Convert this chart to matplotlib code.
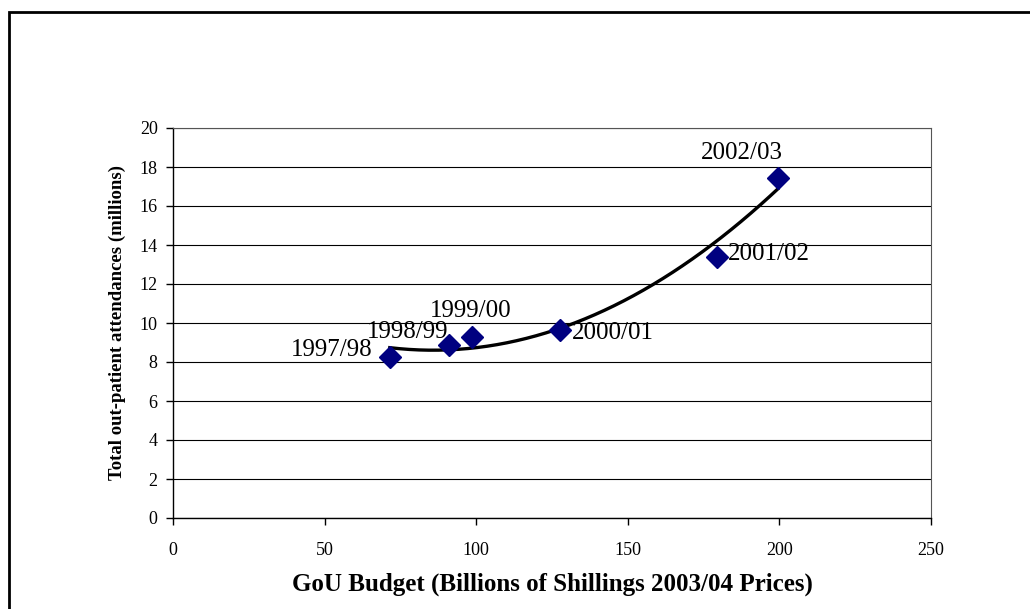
import numpy as np
import matplotlib.pyplot as plt
from matplotlib.patches import Rectangle

# budget (bn shillings, 2003/04 prices) vs out-patient attendances (millions)
years = ['1997/98', '1998/99', '1999/00', '2000/01', '2001/02', '2002/03']
budget = [71.5, 91, 98.6, 127.6, 179.5, 199.5]
attend = [8.25, 8.85, 9.3, 9.65, 13.4, 17.45]

plt.rcParams['font.family'] = ['Liberation Serif', 'DejaVu Serif']

fig = plt.figure(figsize=(10.30, 6.09), dpi=100)
ax = fig.add_axes([173 / 1030, 91 / 609, 758 / 1030, 390 / 609])

# outer frame of the chart
fig.patches.append(Rectangle((9 / 1030, -0.1), 1.2, 1 - 12 / 609 + 0.1,
                             transform=fig.transFigure, fill=False,
                             edgecolor='black', linewidth=2))

ax.set_xlim(0, 250)
ax.set_ylim(0, 20)
ax.set_xticks(range(0, 251, 50))
ax.set_yticks(range(0, 21, 2))
ax.yaxis.grid(True, color='black', linewidth=0.8)
ax.set_axisbelow(True)
for s in ['top', 'right']:
    ax.spines[s].set_color('#555555')
    ax.spines[s].set_linewidth(0.8)
for s in ['left', 'bottom']:
    ax.spines[s].set_linewidth(1.0)
ax.tick_params(direction='out', length=5, width=1, labelsize=13)
ax.tick_params(axis='x', pad=12)
ax.tick_params(axis='y', pad=6)

# quadratic trendline fitted to the points
coef = np.polyfit(budget, attend, 2)
xs = np.linspace(min(budget), max(budget), 200)
ax.plot(xs, np.polyval(coef, xs), color='black', linewidth=2.4, zorder=3)

ax.plot(budget, attend, linestyle='none', marker='D', markersize=11,
        color='#000080', zorder=4)

# label offsets in pixels from the point
offsets = {
    '1997/98': (-17, 7, 'right', 'center'),
    '1998/99': (-41, 13, 'center', 'center'),
    '1999/00': (-1, 26, 'center', 'center'),
    '2000/01': (12, -3, 'left', 'center'),
    '2001/02': (11, 3, 'left', 'center'),
    '2002/03': (-36, 25, 'center', 'center'),
}
for lab, x, y in zip(years, budget, attend):
    dx, dy, ha, va = offsets[lab]
    ax.annotate(lab, (x, y), xytext=(dx, dy), textcoords='offset pixels',
                ha=ha, va=va, fontsize=18)

ax.set_xlabel('GoU Budget (Billions of Shillings 2003/04 Prices)',
              fontsize=18, fontweight='bold', labelpad=10)
ax.set_ylabel('Total out-patient attendances (millions)',
              fontsize=13.5, fontweight='bold', labelpad=10)

fig.savefig('out.png', dpi=100)
